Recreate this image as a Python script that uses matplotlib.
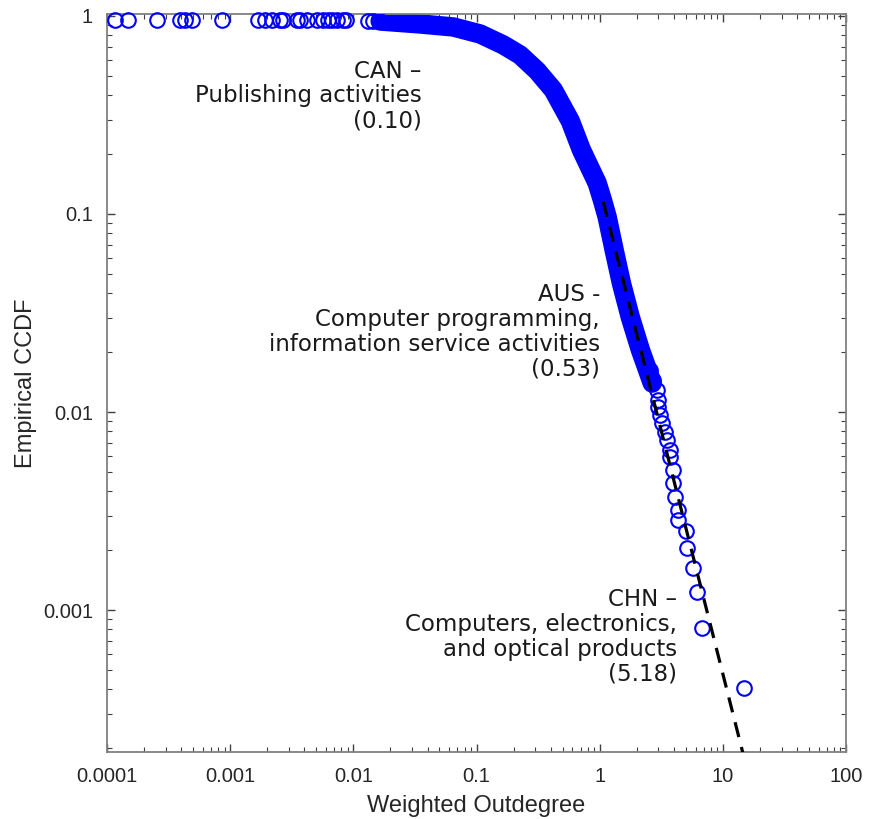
"""
Empirical CCDF of weighted outdegree (log-log) with power-law tail fit
"""
import matplotlib
matplotlib.use('Agg')
import matplotlib.pyplot as plt
from matplotlib.ticker import LogLocator, FixedLocator, FuncFormatter, NullFormatter

plt.rcParams['font.family'] = ['Liberation Sans', 'DejaVu Sans']

# sparse low-degree points along the top (y ~ 1)
top_x = [1.16e-4, 1.48e-4, 2.55e-4, 3.92e-4, 4.3e-4, 4.9e-4, 8.6e-4,
         1.69e-3, 1.92e-3, 2.19e-3, 2.54e-3, 2.69e-3, 3.49e-3, 3.70e-3,
         4.21e-3, 5.08e-3, 5.69e-3, 6.24e-3, 6.73e-3, 7.38e-3, 8.26e-3,
         8.74e-3, 1.32e-2, 1.45e-2]
top_y = [0.955, 0.955, 0.955, 0.955, 0.955, 0.955, 0.955,
         0.954, 0.954, 0.954, 0.954, 0.954, 0.953, 0.953,
         0.953, 0.952, 0.952, 0.952, 0.951, 0.951, 0.951,
         0.950, 0.948, 0.947]

# dense body of the distribution (read along the band centre)
band_x = [0.0165, 0.0349, 0.0647, 0.107, 0.165, 0.226, 0.311, 0.420, 0.577,
          0.710, 0.955, 1.05, 1.15, 1.31, 1.50, 1.77, 2.14, 2.67]
band_y = [0.943, 0.911, 0.880, 0.811, 0.714, 0.635, 0.528, 0.423, 0.295,
          0.211, 0.143, 0.118, 0.0966, 0.0658, 0.0448, 0.0302, 0.0206, 0.0140]

# tail points (individual circles)
tail_x = [2.58, 2.72, 2.94, 2.99, 2.99, 3.10, 3.22, 3.41, 3.54, 3.75, 3.75,
          3.96, 3.96, 4.11, 4.35, 4.35, 5.05, 5.14, 5.75, 6.21, 6.81, 14.9]
tail_y = [0.0163, 0.0145, 0.0129, 0.0115, 0.0106, 0.00966, 0.0088, 0.00793,
          0.00722, 0.00643, 0.00593, 0.00509, 0.00438, 0.00372, 0.0032,
          0.00285, 0.0025, 0.00206, 0.00163, 0.00123, 0.00081, 0.000404]

# power-law fit line
fit_x = [1.07, 16.0]
fit_y = [0.115, 1.5e-4]

x_ticks = [1e-4, 1e-3, 1e-2, 1e-1, 1, 10, 100]
y_ticks = [1e-3, 1e-2, 1e-1, 1]

blue = '#0000ff'
grey_txt = '#262626'

fig = plt.figure(figsize=(8.75, 8.19), dpi=100)
ax = fig.add_axes([0.1223, 0.0818, 0.8446, 0.9011])

ms = 10.5
ax.plot(top_x, top_y, 'o', mfc='none', mec=blue, mew=1.5, ms=ms, clip_on=False, zorder=3)
ax.plot(band_x, band_y, '-', color=blue, lw=14, solid_capstyle='round',
        solid_joinstyle='round', zorder=2)
ax.plot(band_x, band_y, 'o', mfc='none', mec=blue, mew=1.5, ms=ms, zorder=3)
ax.plot(tail_x, tail_y, 'o', mfc='none', mec=blue, mew=1.5, ms=ms, zorder=3)

fit_line, = ax.plot(fit_x, fit_y, '--', color='black', lw=2.3, zorder=4)
fit_line.set_dashes([4.8, 3.2])

ax.set_xscale('log')
ax.set_yscale('log')
ax.set_xlim(1e-4, 100)
ax.set_ylim(1.92e-4, 1.023)

fmt = FuncFormatter(lambda v, p: '{:g}'.format(v))
ax.xaxis.set_major_locator(FixedLocator(x_ticks))
ax.yaxis.set_major_locator(FixedLocator(y_ticks))
ax.xaxis.set_major_formatter(fmt)
ax.yaxis.set_major_formatter(fmt)
ax.xaxis.set_minor_locator(LogLocator(base=10, subs=range(2, 10), numticks=20))
ax.yaxis.set_minor_locator(LogLocator(base=10, subs=range(2, 10), numticks=20))
ax.xaxis.set_minor_formatter(NullFormatter())
ax.yaxis.set_minor_formatter(NullFormatter())

ax.tick_params(which='both', direction='in', top=True, right=True, color='#404040')
ax.tick_params(which='major', length=6, width=1.0, labelsize=14.5, labelcolor=grey_txt)
ax.tick_params(axis='x', which='major', pad=11)
ax.tick_params(axis='y', which='major', pad=10)
ax.tick_params(which='minor', length=3.5, width=0.8)

for s in ax.spines.values():
    s.set_color('#808080')
    s.set_linewidth(1.3)

ax.set_xlabel('Weighted Outdegree', fontsize=17, color=grey_txt, labelpad=6)
ax.set_ylabel('Empirical CCDF', fontsize=17, color=grey_txt, labelpad=4)

ann = dict(ha='right', va='center', multialignment='right', fontsize=16.5,
           family='DejaVu Sans', color='#1a1a1a', linespacing=1.1,
           transform=ax.transAxes)
ax.text(0.426, 0.889, 'CAN \u2013\nPublishing activities\n(0.10)', **ann)
ax.text(0.667, 0.569, 'AUS -\nComputer programming,\ninformation service activities\n(0.53)', **ann)
ax.text(0.771, 0.156, 'CHN \u2013\nComputers, electronics,\nand optical products\n(5.18)', **ann)

plt.savefig('out.png', dpi=100)
plt.close()
